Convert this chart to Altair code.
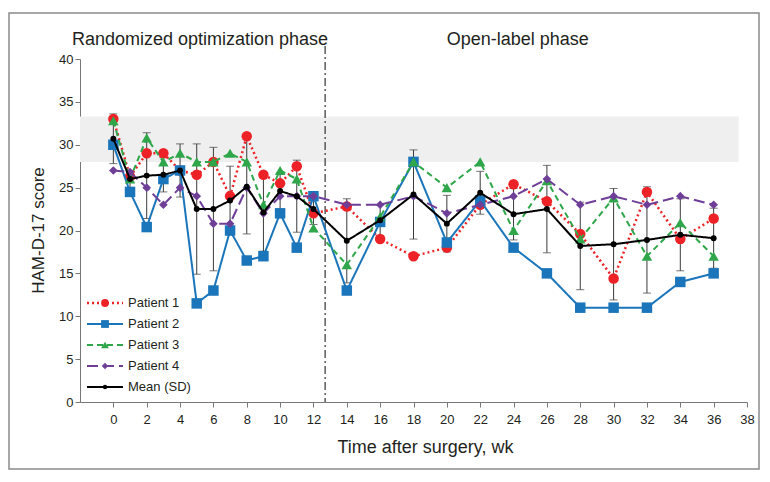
import altair as alt
import pandas as pd

# ---------------- data ----------------
weeks = [0, 1, 2, 3, 4, 5, 6, 7, 8, 9, 10, 11, 12,
         14, 16, 18, 20, 22, 24, 26, 28, 30, 32, 34, 36]
patient1 = [33, 26.3, 29, 29, 27, 26.5, 28, 24, 31, 26.5, 25.5, 27.5, 22,
            22.8, 19, 17, 18, 23, 25.4, 23.4, 19.6, 14.4, 24.5, 19, 21.4]
patient2 = [30, 24.5, 20.4, 26, 27, 11.5, 13, 20, 16.5, 17, 22, 18, 24,
            13, 21, 28, 18.6, 23.5, 18, 15, 11, 11, 11, 14, 15]
patient3 = [32.8, 26, 30.8, 28, 29, 28, 28, 29, 28, 23, 27, 26, 20.3,
            16, 21.6, 28, 25, 28, 20, 25.8, 19, 23.8, 17, 20.9, 17]
patient4 = [27, 26.8, 25, 23, 25, 24, 20.8, 20.8, 25, 22, 24, 24, 24,
            23, 23, 24, 22, 23, 24, 26, 23, 24, 23, 24, 23]
mean_score = [30.7, 26, 26.4, 26.5, 27, 22.5, 22.5, 23.5, 25.1, 22.1, 24.6, 24, 22.5,
              18.8, 21.2, 24.2, 20.8, 24.4, 21.9, 22.5, 18.2, 18.4, 18.9, 19.5, 19.1]
sd_score = [2.9, 1.0, 5.0, 2.0, 3.1, 7.6, 7.2, 4.0, 5.5, 4.5, 2.1, 4.2, 1.8,
            4.9, 1.8, 5.2, 3.3, 2.5, 3.0, 5.1, 5.1, 6.5, 6.2, 4.2, 3.5]

series_names = ["Patient 1", "Patient 2", "Patient 3", "Patient 4", "Mean (SD)"]
series_values = [patient1, patient2, patient3, patient4, mean_score]

band_low, band_high = 28, 33.3
band_start, band_end = -2, 37.5
phase_split = 12.7
phase_labels = ["Randomized optimization phase", "Open-label phase"]
phase_label_x = [5.2, 24.25]

x_ticks = list(range(0, 39, 2))
y_ticks = list(range(0, 41, 5))

# ---------------- styles ----------------
colors = ["#ec2227", "#1b75bb", "#2fa64a", "#6f3f98", "#000000"]
dashes = [[2, 3], [1, 0], [6, 4], [11, 5], [1, 0]]
shapes = ["circle", "square", "triangle-up", "diamond", "circle"]
sizes = [110, 110, 110, 75, 35]
widths = [2.5, 2, 2, 2, 2]

FONT = "Liberation Sans"
TXT = "#231f20"
W, H = 667, 343

x_scale = alt.Scale(domain=[-2, 38], nice=False, zero=False)
y_scale = alt.Scale(domain=[0, 40], nice=False)

x_axis = alt.Axis(values=x_ticks, title="Time after surgery, wk", titleFontSize=18,
                  titleFontWeight="normal", titleFont=FONT, titleColor=TXT,
                  labelFont=FONT, labelFontSize=13, labelColor=TXT, tickSize=5,
                  domainColor="#777777", tickColor="#777777", grid=False,
                  labelPadding=6, labelFlush=False, titleX=345, titleY=45,
                  titleBaseline="middle", titleAlign="center")
y_axis = alt.Axis(values=y_ticks, title="HAM-D-17 score", titleFontSize=17,
                  titleFontWeight="normal", titleFont=FONT, titleColor=TXT,
                  labelFont=FONT, labelFontSize=13, labelColor=TXT, tickSize=5,
                  domainColor="#777777", tickColor="#777777", grid=False,
                  labelPadding=2, titleX=-42, titleY=171, titleBaseline="middle",
                  titleAlign="center", titleAngle=270)


def X(field):
    return alt.X(field, type="quantitative", scale=x_scale, axis=x_axis)


def Y(field):
    return alt.Y(field, type="quantitative", scale=y_scale, axis=y_axis)


one = pd.DataFrame({"a": [0]})
layers = []

# grey reference band
band = alt.Chart(one).mark_rect(color="#efefef").encode(
    x=alt.X(datum=band_start, type="quantitative", scale=x_scale, axis=x_axis),
    x2=alt.datum(band_end),
    y=alt.Y(datum=band_low, type="quantitative", scale=y_scale, axis=y_axis),
    y2=alt.datum(band_high),
)
layers.append(band)

# frame around the whole figure
frame = alt.Chart(one).mark_rect(filled=False, stroke="#8a8a8a", strokeWidth=1.5,
                                 clip=False).encode(
    x=alt.value(-71), x2=alt.value(679), y=alt.value(-46), y2=alt.value(410))
layers.append(frame)

# phase separator
sep = alt.Chart(one).mark_rule(color="#333333", strokeWidth=1.2,
                               strokeDash=[8, 3, 2, 3], clip=False).encode(
    x=alt.X(datum=phase_split, type="quantitative", scale=x_scale, axis=x_axis),
    y=alt.value(-13), y2=alt.value(H))
layers.append(sep)

# error bars
err_df = pd.DataFrame({"week": weeks, "mean": mean_score, "sd": sd_score})
err_df["lo"] = err_df["mean"] - err_df["sd"]
err_df["hi"] = err_df["mean"] + err_df["sd"]
err_base = alt.Chart(err_df)
layers.append(err_base.mark_rule(color="#3a3a3a", strokeWidth=1).encode(
    x=X("week"), y=Y("lo"), y2="hi"))
layers.append(err_base.mark_tick(color="#3a3a3a", orient="horizontal", size=8,
                                 thickness=1).encode(x=X("week"), y=Y("lo")))
layers.append(err_base.mark_tick(color="#3a3a3a", orient="horizontal", size=8,
                                 thickness=1).encode(x=X("week"), y=Y("hi")))

# series lines + markers
for i, name in enumerate(series_names):
    d = pd.DataFrame({"week": weeks, "value": series_values[i], "series": name})
    c = alt.Chart(d)
    layers.append(c.mark_line(color=colors[i], strokeDash=dashes[i],
                              strokeWidth=widths[i]).encode(x=X("week"), y=Y("value")))
    layers.append(c.mark_point(filled=True, shape=shapes[i], size=sizes[i],
                               color=colors[i], opacity=1).encode(x=X("week"), y=Y("value")))

# legend (custom, bottom-left inside plot)
for i, name in enumerate(series_names):
    ly = 244 + i * 21
    ld = pd.DataFrame({"series": [name]})
    lc = alt.Chart(ld)
    layers.append(lc.mark_rule(color=colors[i], strokeDash=dashes[i],
                               strokeWidth=widths[i]).encode(
        x=alt.value(7), x2=alt.value(43), y=alt.value(ly)))
    layers.append(lc.mark_point(filled=True, shape=shapes[i],
                                size=sizes[i] * 0.55, color=colors[i], opacity=1).encode(
        x=alt.value(25), y=alt.value(ly)))
    layers.append(lc.mark_text(align="left", baseline="middle", font=FONT,
                               fontSize=13, color=TXT).encode(
        x=alt.value(48), y=alt.value(ly), text="series:N"))

# phase labels
ph_df = pd.DataFrame({"label": phase_labels, "x": phase_label_x})
layers.append(alt.Chart(ph_df).mark_text(align="center", baseline="middle", font=FONT,
                                         fontSize=18, color=TXT, clip=False).encode(
    x=X("x"), y=alt.value(-19), text="label:N"))

chart = alt.layer(*layers).properties(
    width=W, height=H,
    autosize=alt.AutoSizeParams(type="none"),
    padding={"left": 72, "top": 51, "right": 14, "bottom": 70},
).configure_view(stroke=None)

chart.save("out.html", embed_options={"renderer": "svg", "actions": False})
